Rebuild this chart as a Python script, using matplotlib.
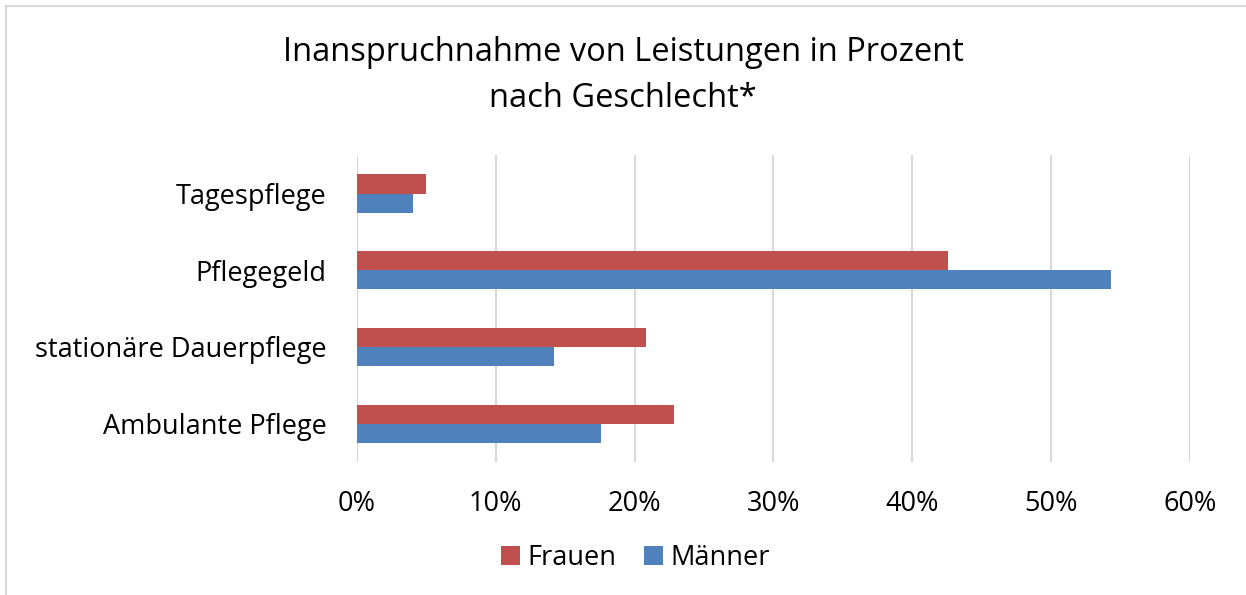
import numpy as np
import matplotlib.pyplot as plt
from matplotlib.patches import Rectangle
from matplotlib.ticker import FuncFormatter

plt.rcParams['font.family'] = ['Open Sans', 'DejaVu Sans']

kategorien = ["Ambulante Pflege", "stationäre Dauerpflege", "Pflegegeld", "Tagespflege"]
frauen = [22.8, 20.8, 42.6, 5.0]
maenner = [17.6, 14.2, 54.3, 4.0]

fig = plt.figure(figsize=(12.46, 5.95), dpi=100)
ax = fig.add_axes([0.2865, 0.2235, 0.6685, 0.5155])

y = np.arange(len(kategorien))
h = 0.25
ax.barh(y + h / 2, frauen, height=h, color="#C0504D", label="Frauen", zorder=3)
ax.barh(y - h / 2, maenner, height=h, color="#4F81BD", label="Männer", zorder=3)

ax.set_xlim(0, 60)
ax.set_ylim(-0.5, 3.5)
ax.set_xticks(np.arange(0, 61, 10))
ax.xaxis.set_major_formatter(FuncFormatter(lambda v, p: f"{v:.0f}%"))
ax.set_yticks(y)
ax.set_yticklabels(kategorien)
ax.grid(axis="x", color="#D9D9D9", linewidth=1.5, zorder=0)
for s in ax.spines.values():
    s.set_visible(False)
ax.tick_params(length=0, labelsize=19.5, colors="#000000")
ax.tick_params(axis="x", pad=20)
ax.tick_params(axis="y", pad=22)

fig.text(0.5, 0.912, "Inanspruchnahme von Leistungen in Prozent", ha="center", va="center", fontsize=23.5)
fig.text(0.5, 0.835, "nach Geschlecht*", ha="center", va="center", fontsize=23.5)

fig.legend(loc="center", bbox_to_anchor=(0.51, 0.062), ncol=2, frameon=False, fontsize=19.5,
           handlelength=0.7, handleheight=0.7, handletextpad=0.3, columnspacing=1.0)

fig.patches.append(Rectangle((0.005, -0.01), 0.997, 1.0, transform=fig.transFigure,
                             fill=False, edgecolor="#D9D9D9", linewidth=1.5))

fig.savefig("out.png", dpi=100)
